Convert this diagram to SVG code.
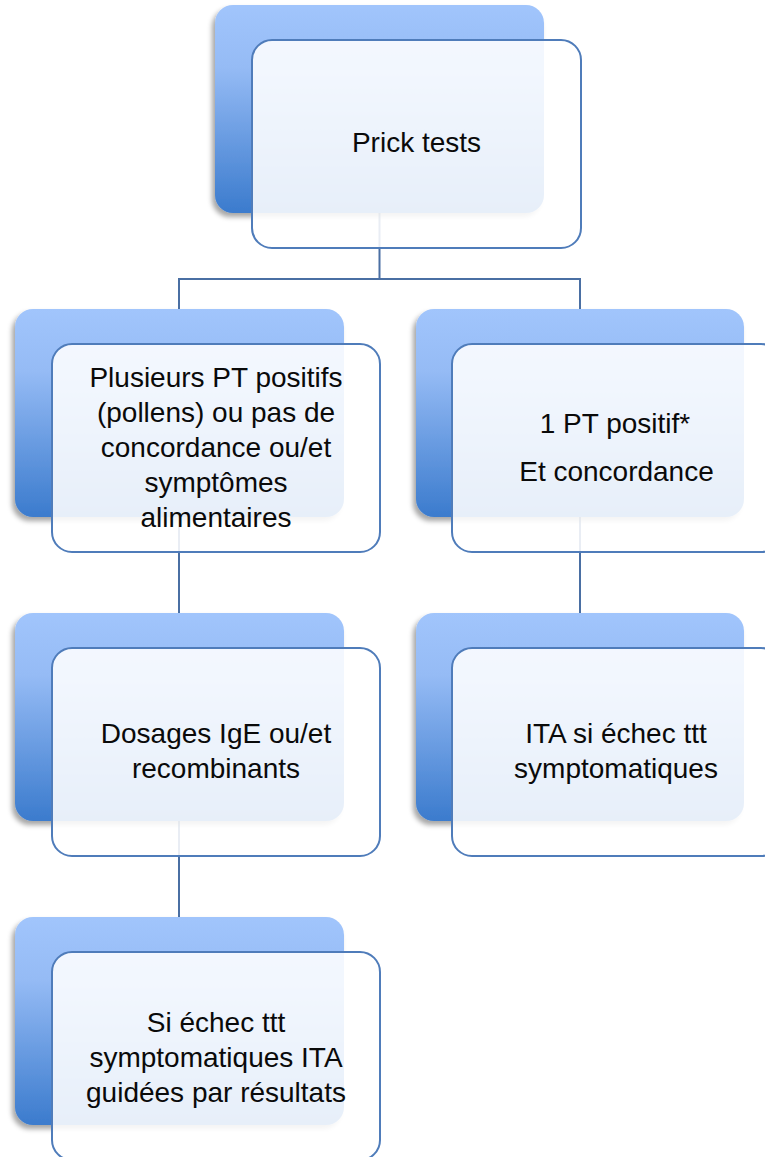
<svg xmlns="http://www.w3.org/2000/svg" width="765" height="1157" viewBox="0 0 765 1157">
<defs>
<linearGradient id="blueg" x1="0" y1="0" x2="0" y2="1">
<stop offset="0" stop-color="#a1c5fc"/>
<stop offset="0.3" stop-color="#95bbf5"/>
<stop offset="1" stop-color="#3b7bcd"/>
</linearGradient>
<filter id="sh" x="-10%" y="-10%" width="120%" height="125%">
<feDropShadow dx="-3" dy="4" stdDeviation="2.5" flood-color="#000" flood-opacity="0.35"/>
</filter>
</defs>
<style>
.back{fill:url(#blueg);filter:url(#sh);}
.front{fill:#ffffff;fill-opacity:0.88;stroke:#4f7cba;stroke-width:2;}
.conn{fill:none;stroke:#4a6fa3;stroke-width:2;}
text{font-family:"Liberation Sans",Arial,sans-serif;font-size:28px;fill:#0a0a0a;text-anchor:middle;}
</style>
<rect width="765" height="1157" fill="#ffffff"/>
<g id="connectors">
<path class="conn" d="M379.5,213 V279 M179,310 V279 H580 V310"/>
<path class="conn" d="M179,517 V613"/>
<path class="conn" d="M580,517 V613"/>
<path class="conn" d="M179,821 V917"/>
</g>
<g id="node-prick">
<rect class="back" x="215" y="5" width="329" height="208" rx="18"/>
<rect class="front" x="252" y="40" width="329" height="208" rx="20"/>
<text x="416.5" y="152">Prick tests</text>
</g>
<g id="node-plusieurs">
<rect class="back" x="15" y="309" width="329" height="208" rx="18"/>
<rect class="front" x="52" y="344" width="328" height="208" rx="20"/>
<text x="216" y="387">Plusieurs PT positifs</text>
<text x="216" y="422">(pollens) ou pas de</text>
<text x="216" y="457">concordance ou/et</text>
<text x="216" y="492">symptômes</text>
<text x="216" y="527">alimentaires</text>
</g>
<g id="node-1pt">
<rect class="back" x="416" y="309" width="328" height="208" rx="18"/>
<rect class="front" x="452" y="344" width="329" height="208" rx="20"/>
<text x="615" y="433">1 PT positif*</text>
<text x="616.5" y="481">Et concordance</text>
</g>
<g id="node-dosages">
<rect class="back" x="15" y="613" width="329" height="208" rx="18"/>
<rect class="front" x="52" y="648" width="328" height="208" rx="20"/>
<text x="216" y="743">Dosages IgE ou/et</text>
<text x="216" y="778">recombinants</text>
</g>
<g id="node-ita">
<rect class="back" x="416" y="613" width="328" height="208" rx="18"/>
<rect class="front" x="452" y="648" width="329" height="208" rx="20"/>
<text x="616" y="743">ITA si échec ttt</text>
<text x="616" y="778">symptomatiques</text>
</g>
<g id="node-si-echec">
<rect class="back" x="15" y="917" width="329" height="208" rx="18"/>
<rect class="front" x="52" y="952" width="328" height="208" rx="20"/>
<text x="216" y="1032">Si échec ttt</text>
<text x="216" y="1067">symptomatiques ITA</text>
<text x="216" y="1102">guidées par résultats</text>
</g>
</svg>
